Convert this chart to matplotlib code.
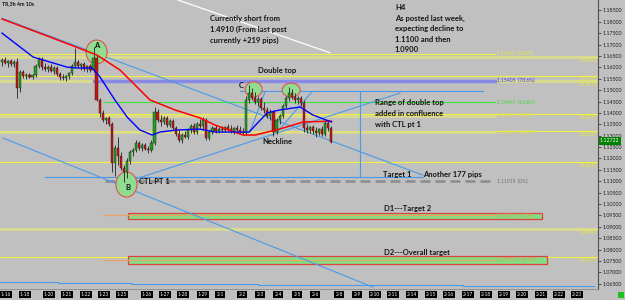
import numpy as np
import matplotlib.pyplot as plt
from matplotlib.patches import Ellipse, Rectangle

plt.rcParams['font.family'] = ['Lato', 'DejaVu Sans']

# EUR/USD H4 candles, oldest first
opens = [1.1623, 1.1632, 1.1619, 1.1628, 1.1614, 1.1623, 1.1509, 1.1579, 1.1562, 1.1566,
         1.1558, 1.1566, 1.1606, 1.1636, 1.1601, 1.1592, 1.1601, 1.1584, 1.1597, 1.1571,
         1.1558, 1.1553, 1.1562, 1.1575, 1.1606, 1.1623, 1.1606, 1.1614, 1.1592, 1.1606,
         1.1588, 1.1641, 1.1457, 1.1400, 1.1369, 1.1378, 1.1351, 1.1180, 1.1246, 1.1211,
         1.1158, 1.1140, 1.1189, 1.1228, 1.1237, 1.1268, 1.1246, 1.1259, 1.1241, 1.1237,
         1.1268, 1.1404, 1.1369, 1.1360, 1.1378, 1.1347, 1.1364, 1.1334, 1.1307, 1.1281,
         1.1303, 1.1294, 1.1325, 1.1342, 1.1316, 1.1351, 1.1342, 1.1369, 1.1290, 1.1316,
         1.1334, 1.1320, 1.1329, 1.1325, 1.1338, 1.1329, 1.1320, 1.1334, 1.1325, 1.1316,
         1.1312, 1.1457, 1.1487, 1.1465, 1.1448, 1.1461, 1.1421, 1.1413, 1.1386, 1.1404,
         1.1316, 1.1369, 1.1386, 1.1430, 1.1465, 1.1487, 1.1470, 1.1457, 1.1465, 1.1443,
         1.1334, 1.1325, 1.1338, 1.1320, 1.1312, 1.1329, 1.1307, 1.1356, 1.1334]
highs = [1.1641, 1.1645, 1.1632, 1.1636, 1.1632, 1.1641, 1.1588, 1.1588, 1.1575, 1.1575,
         1.1571, 1.1614, 1.1645, 1.1645, 1.1619, 1.1610, 1.1614, 1.1606, 1.1606, 1.1579,
         1.1571, 1.1566, 1.1579, 1.1614, 1.1685, 1.1632, 1.1619, 1.1623, 1.1610, 1.1614,
         1.1689, 1.1654, 1.1465, 1.1413, 1.1382, 1.1386, 1.1360, 1.1259, 1.1294, 1.1228,
         1.1171, 1.1202, 1.1237, 1.1246, 1.1281, 1.1277, 1.1268, 1.1268, 1.1255, 1.1281,
         1.1426, 1.1417, 1.1391, 1.1386, 1.1386, 1.1373, 1.1373, 1.1342, 1.1325, 1.1312,
         1.1320, 1.1334, 1.1351, 1.1356, 1.1360, 1.1373, 1.1382, 1.1378, 1.1325, 1.1342,
         1.1347, 1.1338, 1.1342, 1.1342, 1.1351, 1.1347, 1.1338, 1.1347, 1.1342, 1.1334,
         1.1474, 1.1522, 1.1509, 1.1492, 1.1474, 1.1470, 1.1448, 1.1426, 1.1417, 1.1413,
         1.1378, 1.1395, 1.1439, 1.1474, 1.1514, 1.1505, 1.1487, 1.1474, 1.1474, 1.1457,
         1.1351, 1.1342, 1.1347, 1.1338, 1.1334, 1.1342, 1.1369, 1.1364, 1.1342]
lows = [1.1606, 1.1614, 1.1601, 1.1606, 1.1601, 1.1465, 1.1492, 1.1553, 1.1549, 1.1553,
        1.1549, 1.1558, 1.1597, 1.1588, 1.1584, 1.1579, 1.1579, 1.1571, 1.1562, 1.1544,
        1.1544, 1.1540, 1.1549, 1.1566, 1.1597, 1.1597, 1.1588, 1.1584, 1.1579, 1.1579,
        1.1579, 1.1452, 1.1382, 1.1360, 1.1351, 1.1342, 1.1140, 1.1123, 1.1171, 1.1149,
        1.1097, 1.1114, 1.1176, 1.1211, 1.1228, 1.1237, 1.1233, 1.1237, 1.1224, 1.1228,
        1.1259, 1.1360, 1.1342, 1.1351, 1.1338, 1.1338, 1.1325, 1.1299, 1.1272, 1.1268,
        1.1290, 1.1285, 1.1312, 1.1307, 1.1307, 1.1334, 1.1325, 1.1281, 1.1281, 1.1307,
        1.1312, 1.1312, 1.1316, 1.1316, 1.1320, 1.1312, 1.1307, 1.1316, 1.1307, 1.1303,
        1.1303, 1.1443, 1.1457, 1.1439, 1.1430, 1.1413, 1.1400, 1.1378, 1.1369, 1.1299,
        1.1307, 1.1351, 1.1378, 1.1421, 1.1452, 1.1461, 1.1443, 1.1439, 1.1430, 1.1316,
        1.1312, 1.1312, 1.1307, 1.1294, 1.1303, 1.1299, 1.1299, 1.1320, 1.1268]
closes = [1.1632, 1.1619, 1.1628, 1.1614, 1.1623, 1.1509, 1.1579, 1.1562, 1.1566, 1.1558,
          1.1566, 1.1606, 1.1636, 1.1601, 1.1592, 1.1601, 1.1584, 1.1597, 1.1571, 1.1558,
          1.1553, 1.1562, 1.1575, 1.1606, 1.1623, 1.1606, 1.1614, 1.1592, 1.1606, 1.1588,
          1.1641, 1.1457, 1.1400, 1.1369, 1.1378, 1.1351, 1.1180, 1.1246, 1.1211, 1.1158,
          1.1140, 1.1189, 1.1228, 1.1237, 1.1268, 1.1246, 1.1259, 1.1241, 1.1237, 1.1268,
          1.1404, 1.1369, 1.1360, 1.1378, 1.1347, 1.1364, 1.1334, 1.1307, 1.1281, 1.1303,
          1.1294, 1.1325, 1.1342, 1.1316, 1.1351, 1.1342, 1.1369, 1.1290, 1.1316, 1.1334,
          1.1320, 1.1329, 1.1325, 1.1338, 1.1329, 1.1320, 1.1334, 1.1325, 1.1316, 1.1312,
          1.1457, 1.1487, 1.1465, 1.1448, 1.1461, 1.1421, 1.1413, 1.1386, 1.1404, 1.1316,
          1.1369, 1.1386, 1.1430, 1.1465, 1.1487, 1.1470, 1.1457, 1.1465, 1.1443, 1.1334,
          1.1325, 1.1338, 1.1320, 1.1312, 1.1329, 1.1307, 1.1356, 1.1334, 1.1272]
last_price = 1.12722

# moving averages (bar index, price)
ma_slow_x = [0, 15.7, 31.1, 38.7, 48.5, 56.7, 64.9, 69.8, 79, 83, 91, 98.7, 108]
ma_slow = [1.1812, 1.1733, 1.1654, 1.1588, 1.1457, 1.1413, 1.1378, 1.1347, 1.1303,
           1.1303, 1.1329, 1.1360, 1.1364]
ma_fast_x = [0, 10.2, 21.3, 24.6, 29.5, 32.1, 37, 41, 45.2, 49.2, 51.8, 57.4, 64.9,
             69.8, 81, 86.9, 91.1, 97.7, 101.9, 108]
ma_fast = [1.1750, 1.1645, 1.1601, 1.1597, 1.1597, 1.1558, 1.1457, 1.1382, 1.1325,
           1.1303, 1.1316, 1.1325, 1.1329, 1.1316, 1.1316, 1.1400, 1.1413, 1.1426,
           1.1391, 1.1360]

# horizontal levels across the whole chart
levels = [1.16462, 1.15640, 1.15410, 1.13935, 1.13225, 1.11840, 1.08900, 1.07675]
level_pale = [True, False, True, False, False, False, True, False]

# fibonacci levels
fib_prices = [1.16600, 1.15405, 1.14467, 1.13867, 1.13148, 1.11015, 1.09507, 1.07553]
fib_names = ['100%', '78.6%', '61.8%', '50%', '38.2%', '0%', '-27%', '-61.8%']
fib_start = [-1, 30, 33.4, -1, -1, 33.7, 33.1, 33.1]
fib_colors = ['#f2f23c', '#8a8ae6', '#3ce63c', '#dcdc8c', '#dcdc8c', '#8c8c8c', '#f0a060', '#f0a060']
fib_text = ['#e8e840', '#3c3cff', '#3cdc3c', '#e0e050', '#e0e050', '#707070', '#f09050', '#f09050']

# target zones (bar from, bar to, low, high)
zones = [(41.3, 177, 1.0933, 1.0961), (41.3, 178.7, 1.0739, 1.0772)]

# trend lines (x0, p0, x1, p1)
trend = [(0.3, 1.1814, 138, 1.1127),
         (0.3, 1.1290, 121.6, 1.0636),
         (38.7, 1.1088, 130.5, 1.1487),
         (81.3, 1.1316, 86.2, 1.1492),
         (90.2, 1.1316, 101.6, 1.1492),
         (14.1, 1.1120, 138, 1.1120),
         (78, 1.1498, 157.7, 1.1498),
         (117.4, 1.1498, 117.4, 1.1120)]
bottom_x = [-1, 18.4, 18.4, 42.6, 42.6, 84, 84, 151, 151, 194]
bottom_p = [1.0660, 1.0660, 1.0654, 1.0654, 1.0649, 1.0649, 1.0645, 1.0645, 1.0639, 1.0639]
white_line = (57.7, 1.1895, 107.5, 1.1664)

day_labels = ['1-16', '1-18', '1-20', '1-21', '1-22', '1-23', '1-25', '1-26', '1-27', '1-28',
              '1-29', '2-1', '2-2', '2-3', '2-4', '2-5', '2-6', '2-8', '2-9', '2-10', '2-11',
              '2-14', '2-15', '2-16', '2-17', '2-18', '2-19', '2-20', '2-21', '2-22', '2-23']
day_pos = [1.3, 7.5, 15.4, 21.3, 27.5, 33.4, 39.3, 47.5, 53.4, 59.3, 65.9, 71.5, 78.7, 84.6,
           90.5, 96.7, 102.6, 110.5, 116.4, 122.3, 128.2, 134.4, 140.7, 146.6, 152.8, 158.7,
           164.6, 170.5, 176.8, 182.6, 188.5]

bg = '#c0c0c0'
fig = plt.figure(figsize=(6.25, 3), dpi=100, facecolor=bg)
ax = fig.add_axes([0, 11 / 300, 598 / 625, 289 / 300], facecolor=bg)
ax.set_xlim(-0.66, 195.4)
ax.set_ylim(1.06276, 1.18952)

x_end = 195.4
fib_end = 161.7

# horizontal lines
for p, pale in zip(levels, level_pale):
    if pale:
        ax.plot([-1, x_end], [p, p], color='#dcdc8c', lw=2.0, zorder=1)
    else:
        ax.plot([-1, x_end], [p, p], color='#f2f23c', lw=0.8, zorder=1)
    ax.annotate(f'{p:.5f}', xy=(x_end, p), xytext=(-1, -0.8), textcoords='offset points',
                ha='right', va='top', fontsize=3.6, color='#e8e840')

for p, n, x0, c, tc in zip(fib_prices, fib_names, fib_start, fib_colors, fib_text):
    if n == '0%':
        ax.plot([x0, fib_end], [p, p], color=c, lw=1.8, dashes=(4, 2), zorder=1)
    elif n == '78.6%':
        ax.plot([x0, fib_end], [p, p], color=c, lw=2.5, zorder=1)
    elif c == '#dcdc8c':
        ax.plot([x0, fib_end], [p, p], color=c, lw=1.8, zorder=1)
    else:
        ax.plot([x0, fib_end], [p, p], color=c, lw=0.8, zorder=1)
    ax.text(fib_end + 0.6, p, f'{p:.5f}  ({n})', fontsize=3.6, color=tc, va='center')

# target zones
for x0, x1, lo, hi in zones:
    ax.add_patch(Rectangle((x0, lo), x1 - x0, hi - lo, facecolor='#84dc84',
                           edgecolor='#e04040', lw=0.9, zorder=1.5))
for p in fib_prices[6:]:
    ax.plot([33.1, fib_end], [p, p], color='#f0a060', lw=0.8, zorder=1.6)

# trend lines
for x0, p0, x1, p1 in trend:
    ax.plot([x0, x1], [p0, p1], color='#4a9ae8', lw=0.8, zorder=2)
ax.plot(bottom_x, bottom_p, color='#4a9ae8', lw=0.8, zorder=2)
ax.plot(white_line[::2], white_line[1::2], color='white', lw=0.9, zorder=2)

# circles
for cx, cy, w, h in [(31.0, 1.1667, 6.9, 0.0105), (40.8, 1.1086, 6.9, 0.0110),
                     (82.5, 1.1503, 5.6, 0.0066), (94.8, 1.1500, 5.9, 0.0061)]:
    ax.add_patch(Ellipse((cx, cy), w, h, facecolor='#90dc90', edgecolor='#e05050',
                         lw=0.8, zorder=2.5))

# candles
x = np.arange(len(closes))
o = np.array(opens)
c = np.array(closes)
up = c >= o
body = np.where(np.abs(c - o) < 0.00015, 0.00015, c - o)
ax.vlines(x, lows, highs, color='#202020', lw=0.6, zorder=3)
ax.bar(x, body, bottom=o, width=0.7, color=np.where(up, '#1fa01f', '#cc1010'),
       edgecolor='#202020', linewidth=0.3, zorder=3.2)

ax.plot(ma_slow_x, ma_slow, color='#ff0000', lw=1.1, zorder=4)
ax.plot(ma_fast_x, ma_fast, color='#0000ff', lw=1.0, zorder=4)

# axes
ax.yaxis.tick_right()
yt = np.arange(1.065, 1.1851, 0.005)
ax.set_yticks(yt)
ax.set_yticklabels([f'{v:.5f}' for v in yt])
ax.tick_params(axis='y', labelsize=3.8, length=2, width=0.5, pad=1.5, colors='#202020')
ax.set_xticks(day_pos)
ax.set_xticklabels(day_labels)
ax.tick_params(axis='x', labelsize=3.4, length=0, pad=2.2, colors='white')
for lbl in ax.get_xticklabels():
    lbl.set_bbox(dict(facecolor='black', edgecolor='none', pad=0.8))
for side in ['top', 'left']:
    ax.spines[side].set_visible(False)
ax.spines['right'].set_color('#505050')
ax.spines['right'].set_linewidth(0.8)
ax.spines['bottom'].set_color('#808080')
ax.spines['bottom'].set_linewidth(0.5)


def note(px, py, s, size=5.5, **kw):
    fig.text(px / 625, 1 - py / 300, s, fontsize=size, va='center', color='#141414',
             fontweight='bold', **kw)


note(2, 4, 'TR,3h 4m 10s', size=3.8)
for i, line in enumerate(['Currently short from', '1.4910 (From last post', 'currently +219 pips)']):
    note(210, 18 + 11 * i, line)
for i, line in enumerate(['H4', 'As posted last week,', 'expecting decline to',
                          '1.1100 and then', '1.0900']):
    note(395, 8 + 10.5 * i, line)
note(258, 71, 'Double top')
note(239, 86, 'C')
note(96.5, 46, 'A', ha='center')
note(127.5, 188, 'B', ha='center')
note(139, 181, 'CTL PT 1')
note(262, 141, 'Neckline')
for i, line in enumerate(['Range of double top', 'added in confluence', 'with CTL pt 1']):
    note(375, 103 + 10.7 * i, line)
note(383, 174, 'Target 1')
note(423, 175, 'Another 177 pips')
note(384, 209, 'D1---Target 2')
note(384, 253, 'D2---Overall target')

fig.text(600 / 625, 1 - 141 / 300, f'{last_price:.5f}', fontsize=3.8, color='white',
         va='center', bbox=dict(facecolor='#008000', edgecolor='none', pad=0.8))
fig.add_artist(Rectangle((618 / 625, 2 / 300), 6 / 625, 6 / 300, transform=fig.transFigure,
                         facecolor='#20c020', edgecolor='none'))

fig.savefig('out.png', dpi=100, facecolor=bg)
